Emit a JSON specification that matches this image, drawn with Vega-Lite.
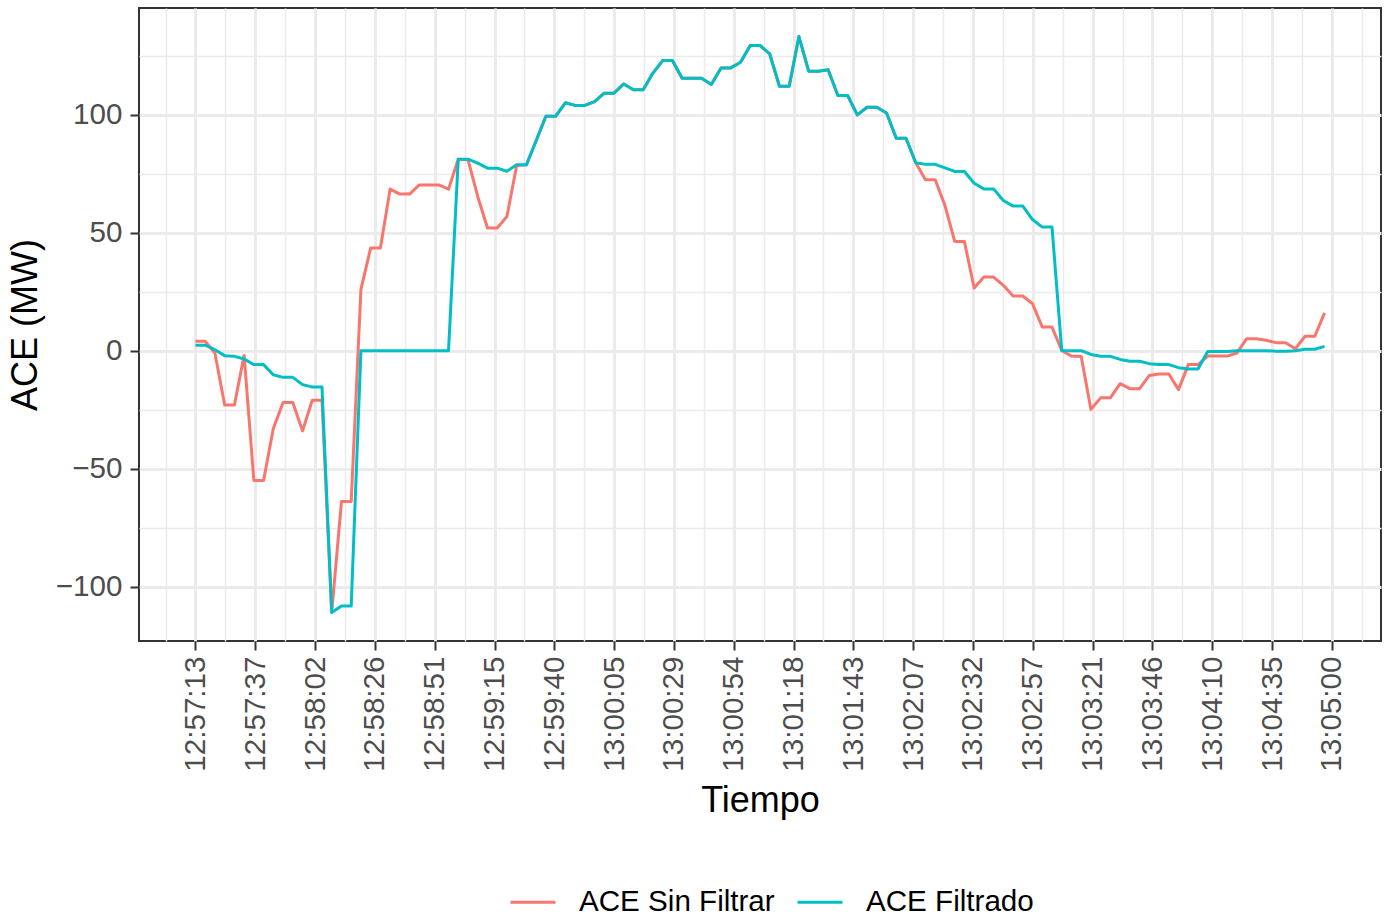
{
  "$schema": "https://vega.github.io/schema/vega-lite/v6.json",
  "width": 1242,
  "height": 633,
  "autosize": {"type": "none"},
  "padding": {"left": 139, "top": 8, "right": 4, "bottom": 277},
  "background": "white",
  "data": {
    "format": {"parse": {"tiempo": "date:'%H:%M:%S'"}},
    "values": [
      {"tiempo": "12:57:13", "ACE Sin Filtrar": 4, "ACE Filtrado": 2.3},
      {"tiempo": "12:57:17", "ACE Sin Filtrar": 4, "ACE Filtrado": 2.3},
      {"tiempo": "12:57:21", "ACE Sin Filtrar": -1, "ACE Filtrado": 0.4},
      {"tiempo": "12:57:25", "ACE Sin Filtrar": -23, "ACE Filtrado": -2.1},
      {"tiempo": "12:57:29", "ACE Sin Filtrar": -23, "ACE Filtrado": -2.4},
      {"tiempo": "12:57:33", "ACE Sin Filtrar": -2, "ACE Filtrado": -3.5},
      {"tiempo": "12:57:37", "ACE Sin Filtrar": -55, "ACE Filtrado": -5.9},
      {"tiempo": "12:57:41", "ACE Sin Filtrar": -55, "ACE Filtrado": -5.9},
      {"tiempo": "12:57:45", "ACE Sin Filtrar": -33, "ACE Filtrado": -10.2},
      {"tiempo": "12:57:49", "ACE Sin Filtrar": -22, "ACE Filtrado": -11.3},
      {"tiempo": "12:57:53", "ACE Sin Filtrar": -22, "ACE Filtrado": -11.3},
      {"tiempo": "12:57:57", "ACE Sin Filtrar": -34, "ACE Filtrado": -14.4},
      {"tiempo": "12:58:01", "ACE Sin Filtrar": -21, "ACE Filtrado": -15.4},
      {"tiempo": "12:58:05", "ACE Sin Filtrar": -21, "ACE Filtrado": -15.4},
      {"tiempo": "12:58:09", "ACE Sin Filtrar": -111, "ACE Filtrado": -111},
      {"tiempo": "12:58:13", "ACE Sin Filtrar": -64, "ACE Filtrado": -108.3},
      {"tiempo": "12:58:17", "ACE Sin Filtrar": -64, "ACE Filtrado": -108.3},
      {"tiempo": "12:58:21", "ACE Sin Filtrar": 26, "ACE Filtrado": 0},
      {"tiempo": "12:58:25", "ACE Sin Filtrar": 43.5, "ACE Filtrado": 0},
      {"tiempo": "12:58:29", "ACE Sin Filtrar": 43.5, "ACE Filtrado": 0},
      {"tiempo": "12:58:33", "ACE Sin Filtrar": 68.5, "ACE Filtrado": 0},
      {"tiempo": "12:58:37", "ACE Sin Filtrar": 66.4, "ACE Filtrado": 0},
      {"tiempo": "12:58:41", "ACE Sin Filtrar": 66.4, "ACE Filtrado": 0},
      {"tiempo": "12:58:45", "ACE Sin Filtrar": 70.3, "ACE Filtrado": 0},
      {"tiempo": "12:58:49", "ACE Sin Filtrar": 70.3, "ACE Filtrado": 0},
      {"tiempo": "12:58:53", "ACE Sin Filtrar": 70.3, "ACE Filtrado": 0},
      {"tiempo": "12:58:57", "ACE Sin Filtrar": 68.5, "ACE Filtrado": 0},
      {"tiempo": "12:59:01", "ACE Sin Filtrar": 81.2, "ACE Filtrado": 81.2},
      {"tiempo": "12:59:05", "ACE Sin Filtrar": 81, "ACE Filtrado": 81.2},
      {"tiempo": "12:59:09", "ACE Sin Filtrar": 65.4, "ACE Filtrado": 79.5},
      {"tiempo": "12:59:13", "ACE Sin Filtrar": 52, "ACE Filtrado": 77.4},
      {"tiempo": "12:59:17", "ACE Sin Filtrar": 52, "ACE Filtrado": 77.4},
      {"tiempo": "12:59:21", "ACE Sin Filtrar": 56.9, "ACE Filtrado": 76.1},
      {"tiempo": "12:59:25", "ACE Sin Filtrar": 78.5, "ACE Filtrado": 78.8},
      {"tiempo": "12:59:29", "ACE Sin Filtrar": 78.8, "ACE Filtrado": 78.8},
      {"tiempo": "12:59:33", "ACE Sin Filtrar": 89, "ACE Filtrado": 89},
      {"tiempo": "12:59:37", "ACE Sin Filtrar": 99.4, "ACE Filtrado": 99.4},
      {"tiempo": "12:59:41", "ACE Sin Filtrar": 99.4, "ACE Filtrado": 99.4},
      {"tiempo": "12:59:45", "ACE Sin Filtrar": 105.1, "ACE Filtrado": 105.1},
      {"tiempo": "12:59:49", "ACE Sin Filtrar": 104, "ACE Filtrado": 104},
      {"tiempo": "12:59:53", "ACE Sin Filtrar": 104, "ACE Filtrado": 104},
      {"tiempo": "12:59:57", "ACE Sin Filtrar": 105.6, "ACE Filtrado": 105.6},
      {"tiempo": "13:00:01", "ACE Sin Filtrar": 109.2, "ACE Filtrado": 109.2},
      {"tiempo": "13:00:05", "ACE Sin Filtrar": 109.2, "ACE Filtrado": 109.2},
      {"tiempo": "13:00:09", "ACE Sin Filtrar": 113.1, "ACE Filtrado": 113.1},
      {"tiempo": "13:00:13", "ACE Sin Filtrar": 110.6, "ACE Filtrado": 110.6},
      {"tiempo": "13:00:17", "ACE Sin Filtrar": 110.6, "ACE Filtrado": 110.6},
      {"tiempo": "13:00:21", "ACE Sin Filtrar": 117.7, "ACE Filtrado": 117.7},
      {"tiempo": "13:00:25", "ACE Sin Filtrar": 123, "ACE Filtrado": 123},
      {"tiempo": "13:00:29", "ACE Sin Filtrar": 123, "ACE Filtrado": 123},
      {"tiempo": "13:00:33", "ACE Sin Filtrar": 115.5, "ACE Filtrado": 115.5},
      {"tiempo": "13:00:37", "ACE Sin Filtrar": 115.5, "ACE Filtrado": 115.5},
      {"tiempo": "13:00:41", "ACE Sin Filtrar": 115.5, "ACE Filtrado": 115.5},
      {"tiempo": "13:00:45", "ACE Sin Filtrar": 112.9, "ACE Filtrado": 112.9},
      {"tiempo": "13:00:49", "ACE Sin Filtrar": 119.9, "ACE Filtrado": 119.9},
      {"tiempo": "13:00:53", "ACE Sin Filtrar": 119.9, "ACE Filtrado": 119.9},
      {"tiempo": "13:00:57", "ACE Sin Filtrar": 122.3, "ACE Filtrado": 122.3},
      {"tiempo": "13:01:01", "ACE Sin Filtrar": 129.4, "ACE Filtrado": 129.4},
      {"tiempo": "13:01:05", "ACE Sin Filtrar": 129.4, "ACE Filtrado": 129.4},
      {"tiempo": "13:01:09", "ACE Sin Filtrar": 125.8, "ACE Filtrado": 125.8},
      {"tiempo": "13:01:13", "ACE Sin Filtrar": 112.1, "ACE Filtrado": 112.1},
      {"tiempo": "13:01:17", "ACE Sin Filtrar": 112.1, "ACE Filtrado": 112.1},
      {"tiempo": "13:01:21", "ACE Sin Filtrar": 133.2, "ACE Filtrado": 133.2},
      {"tiempo": "13:01:25", "ACE Sin Filtrar": 118.5, "ACE Filtrado": 118.5},
      {"tiempo": "13:01:29", "ACE Sin Filtrar": 118.5, "ACE Filtrado": 118.5},
      {"tiempo": "13:01:33", "ACE Sin Filtrar": 119.1, "ACE Filtrado": 119.1},
      {"tiempo": "13:01:37", "ACE Sin Filtrar": 108.2, "ACE Filtrado": 108.2},
      {"tiempo": "13:01:41", "ACE Sin Filtrar": 108.2, "ACE Filtrado": 108.2},
      {"tiempo": "13:01:45", "ACE Sin Filtrar": 100, "ACE Filtrado": 100},
      {"tiempo": "13:01:49", "ACE Sin Filtrar": 103.2, "ACE Filtrado": 103.2},
      {"tiempo": "13:01:53", "ACE Sin Filtrar": 103.2, "ACE Filtrado": 103.2},
      {"tiempo": "13:01:57", "ACE Sin Filtrar": 100.8, "ACE Filtrado": 100.8},
      {"tiempo": "13:02:01", "ACE Sin Filtrar": 90.1, "ACE Filtrado": 90.1},
      {"tiempo": "13:02:05", "ACE Sin Filtrar": 90.1, "ACE Filtrado": 90.1},
      {"tiempo": "13:02:09", "ACE Sin Filtrar": 79.7, "ACE Filtrado": 79.7},
      {"tiempo": "13:02:13", "ACE Sin Filtrar": 72.5, "ACE Filtrado": 79},
      {"tiempo": "13:02:17", "ACE Sin Filtrar": 72.5, "ACE Filtrado": 79},
      {"tiempo": "13:02:21", "ACE Sin Filtrar": 61.6, "ACE Filtrado": 77.5},
      {"tiempo": "13:02:25", "ACE Sin Filtrar": 46.3, "ACE Filtrado": 76},
      {"tiempo": "13:02:29", "ACE Sin Filtrar": 46.3, "ACE Filtrado": 76},
      {"tiempo": "13:02:33", "ACE Sin Filtrar": 26.6, "ACE Filtrado": 71},
      {"tiempo": "13:02:37", "ACE Sin Filtrar": 31.2, "ACE Filtrado": 68.6},
      {"tiempo": "13:02:41", "ACE Sin Filtrar": 31.2, "ACE Filtrado": 68.6},
      {"tiempo": "13:02:45", "ACE Sin Filtrar": 27.7, "ACE Filtrado": 63.7},
      {"tiempo": "13:02:49", "ACE Sin Filtrar": 23.2, "ACE Filtrado": 61.3},
      {"tiempo": "13:02:53", "ACE Sin Filtrar": 23.2, "ACE Filtrado": 61.3},
      {"tiempo": "13:02:57", "ACE Sin Filtrar": 19.9, "ACE Filtrado": 55.6},
      {"tiempo": "13:03:01", "ACE Sin Filtrar": 10, "ACE Filtrado": 52.4},
      {"tiempo": "13:03:05", "ACE Sin Filtrar": 10, "ACE Filtrado": 52.4},
      {"tiempo": "13:03:09", "ACE Sin Filtrar": 0.1, "ACE Filtrado": 0.1},
      {"tiempo": "13:03:13", "ACE Sin Filtrar": -2.3, "ACE Filtrado": 0},
      {"tiempo": "13:03:17", "ACE Sin Filtrar": -2.5, "ACE Filtrado": 0},
      {"tiempo": "13:03:21", "ACE Sin Filtrar": -24.9, "ACE Filtrado": -1.6},
      {"tiempo": "13:03:25", "ACE Sin Filtrar": -20, "ACE Filtrado": -2.4},
      {"tiempo": "13:03:29", "ACE Sin Filtrar": -20, "ACE Filtrado": -2.4},
      {"tiempo": "13:03:33", "ACE Sin Filtrar": -14, "ACE Filtrado": -3.7},
      {"tiempo": "13:03:37", "ACE Sin Filtrar": -16.1, "ACE Filtrado": -4.5},
      {"tiempo": "13:03:41", "ACE Sin Filtrar": -16.1, "ACE Filtrado": -4.5},
      {"tiempo": "13:03:45", "ACE Sin Filtrar": -10.5, "ACE Filtrado": -5.5},
      {"tiempo": "13:03:49", "ACE Sin Filtrar": -9.9, "ACE Filtrado": -5.9},
      {"tiempo": "13:03:53", "ACE Sin Filtrar": -9.9, "ACE Filtrado": -5.9},
      {"tiempo": "13:03:57", "ACE Sin Filtrar": -16.5, "ACE Filtrado": -7.2},
      {"tiempo": "13:04:01", "ACE Sin Filtrar": -5.9, "ACE Filtrado": -7.8},
      {"tiempo": "13:04:05", "ACE Sin Filtrar": -5.9, "ACE Filtrado": -7.8},
      {"tiempo": "13:04:09", "ACE Sin Filtrar": -2.3, "ACE Filtrado": -0.3},
      {"tiempo": "13:04:13", "ACE Sin Filtrar": -2.3, "ACE Filtrado": -0.3},
      {"tiempo": "13:04:17", "ACE Sin Filtrar": -2.3, "ACE Filtrado": -0.3},
      {"tiempo": "13:04:21", "ACE Sin Filtrar": -1, "ACE Filtrado": 0},
      {"tiempo": "13:04:25", "ACE Sin Filtrar": 5.1, "ACE Filtrado": 0},
      {"tiempo": "13:04:29", "ACE Sin Filtrar": 5.1, "ACE Filtrado": 0},
      {"tiempo": "13:04:33", "ACE Sin Filtrar": 4.4, "ACE Filtrado": 0},
      {"tiempo": "13:04:37", "ACE Sin Filtrar": 3.4, "ACE Filtrado": -0.2},
      {"tiempo": "13:04:41", "ACE Sin Filtrar": 3.4, "ACE Filtrado": -0.2},
      {"tiempo": "13:04:45", "ACE Sin Filtrar": 0.8, "ACE Filtrado": 0},
      {"tiempo": "13:04:49", "ACE Sin Filtrar": 6.1, "ACE Filtrado": 0.6},
      {"tiempo": "13:04:53", "ACE Sin Filtrar": 6.1, "ACE Filtrado": 0.6},
      {"tiempo": "13:04:57", "ACE Sin Filtrar": 16, "ACE Filtrado": 1.8}
    ]
  },
  "transform": [
    {"fold": ["ACE Sin Filtrar", "ACE Filtrado"], "as": ["serie", "ace"]}
  ],
  "resolve": {"axis": {"x": "independent", "y": "independent"}},
  "layer": [
    {
      "mark": {"type": "point", "opacity": 0, "size": 1},
      "encoding": {
        "x": {
          "field": "tiempo", "type": "temporal",
          "scale": {"domain": [
            {"year": 1900, "month": 1, "date": 1, "hours": 12, "minutes": 56, "seconds": 49, "milliseconds": 800},
            {"year": 1900, "month": 1, "date": 1, "hours": 13, "minutes": 5, "seconds": 20, "milliseconds": 200}
          ], "nice": false},
          "axis": {
            "orient": "bottom", "title": null, "labels": false, "ticks": false, "domain": false,
            "grid": true, "gridColor": "#EBEBEB", "gridWidth": 1.5,
            "values": [
              {"year": 1900, "month": 1, "date": 1, "hours": 12, "minutes": 57, "seconds": 0, "milliseconds": 711},
              {"year": 1900, "month": 1, "date": 1, "hours": 12, "minutes": 57, "seconds": 25, "milliseconds": 289},
              {"year": 1900, "month": 1, "date": 1, "hours": 12, "minutes": 57, "seconds": 49, "milliseconds": 868},
              {"year": 1900, "month": 1, "date": 1, "hours": 12, "minutes": 58, "seconds": 14, "milliseconds": 447},
              {"year": 1900, "month": 1, "date": 1, "hours": 12, "minutes": 58, "seconds": 39, "milliseconds": 26},
              {"year": 1900, "month": 1, "date": 1, "hours": 12, "minutes": 59, "seconds": 3, "milliseconds": 605},
              {"year": 1900, "month": 1, "date": 1, "hours": 12, "minutes": 59, "seconds": 28, "milliseconds": 184},
              {"year": 1900, "month": 1, "date": 1, "hours": 12, "minutes": 59, "seconds": 52, "milliseconds": 763},
              {"year": 1900, "month": 1, "date": 1, "hours": 13, "minutes": 0, "seconds": 17, "milliseconds": 342},
              {"year": 1900, "month": 1, "date": 1, "hours": 13, "minutes": 0, "seconds": 41, "milliseconds": 921},
              {"year": 1900, "month": 1, "date": 1, "hours": 13, "minutes": 1, "seconds": 6, "milliseconds": 500},
              {"year": 1900, "month": 1, "date": 1, "hours": 13, "minutes": 1, "seconds": 31, "milliseconds": 79},
              {"year": 1900, "month": 1, "date": 1, "hours": 13, "minutes": 1, "seconds": 55, "milliseconds": 658},
              {"year": 1900, "month": 1, "date": 1, "hours": 13, "minutes": 2, "seconds": 20, "milliseconds": 237},
              {"year": 1900, "month": 1, "date": 1, "hours": 13, "minutes": 2, "seconds": 44, "milliseconds": 816},
              {"year": 1900, "month": 1, "date": 1, "hours": 13, "minutes": 3, "seconds": 9, "milliseconds": 395},
              {"year": 1900, "month": 1, "date": 1, "hours": 13, "minutes": 3, "seconds": 33, "milliseconds": 974},
              {"year": 1900, "month": 1, "date": 1, "hours": 13, "minutes": 3, "seconds": 58, "milliseconds": 553},
              {"year": 1900, "month": 1, "date": 1, "hours": 13, "minutes": 4, "seconds": 23, "milliseconds": 132},
              {"year": 1900, "month": 1, "date": 1, "hours": 13, "minutes": 4, "seconds": 47, "milliseconds": 711},
              {"year": 1900, "month": 1, "date": 1, "hours": 13, "minutes": 5, "seconds": 12, "milliseconds": 289}
            ]
          }
        },
        "y": {
          "field": "ace", "type": "quantitative",
          "scale": {"domain": [-123.1, 145.3], "nice": false, "zero": false},
          "axis": {
            "orient": "left", "title": null, "labels": false, "ticks": false, "domain": false,
            "grid": true, "gridColor": "#EBEBEB", "gridWidth": 1.5,
            "values": [-75, -25, 25, 75, 125]
          }
        }
      }
    },
    {
      "mark": {"type": "line", "strokeWidth": 3, "strokeJoin": "round"},
      "encoding": {
        "x": {
          "field": "tiempo", "type": "temporal",
          "scale": {"domain": [
            {"year": 1900, "month": 1, "date": 1, "hours": 12, "minutes": 56, "seconds": 49, "milliseconds": 800},
            {"year": 1900, "month": 1, "date": 1, "hours": 13, "minutes": 5, "seconds": 20, "milliseconds": 200}
          ], "nice": false},
          "axis": {
            "orient": "bottom", "title": "Tiempo", "format": "%H:%M:%S",
            "labelAngle": 270, "labelPadding": 6, "titlePadding": 12,
            "labelOverlap": false, "labelFlush": false,
            "grid": true, "gridColor": "#EBEBEB", "gridWidth": 3,
            "values": [
              {"year": 1900, "month": 1, "date": 1, "hours": 12, "minutes": 57, "seconds": 13, "milliseconds": 0},
              {"year": 1900, "month": 1, "date": 1, "hours": 12, "minutes": 57, "seconds": 37, "milliseconds": 579},
              {"year": 1900, "month": 1, "date": 1, "hours": 12, "minutes": 58, "seconds": 2, "milliseconds": 158},
              {"year": 1900, "month": 1, "date": 1, "hours": 12, "minutes": 58, "seconds": 26, "milliseconds": 737},
              {"year": 1900, "month": 1, "date": 1, "hours": 12, "minutes": 58, "seconds": 51, "milliseconds": 316},
              {"year": 1900, "month": 1, "date": 1, "hours": 12, "minutes": 59, "seconds": 15, "milliseconds": 895},
              {"year": 1900, "month": 1, "date": 1, "hours": 12, "minutes": 59, "seconds": 40, "milliseconds": 474},
              {"year": 1900, "month": 1, "date": 1, "hours": 13, "minutes": 0, "seconds": 5, "milliseconds": 53},
              {"year": 1900, "month": 1, "date": 1, "hours": 13, "minutes": 0, "seconds": 29, "milliseconds": 632},
              {"year": 1900, "month": 1, "date": 1, "hours": 13, "minutes": 0, "seconds": 54, "milliseconds": 211},
              {"year": 1900, "month": 1, "date": 1, "hours": 13, "minutes": 1, "seconds": 18, "milliseconds": 789},
              {"year": 1900, "month": 1, "date": 1, "hours": 13, "minutes": 1, "seconds": 43, "milliseconds": 368},
              {"year": 1900, "month": 1, "date": 1, "hours": 13, "minutes": 2, "seconds": 7, "milliseconds": 947},
              {"year": 1900, "month": 1, "date": 1, "hours": 13, "minutes": 2, "seconds": 32, "milliseconds": 526},
              {"year": 1900, "month": 1, "date": 1, "hours": 13, "minutes": 2, "seconds": 57, "milliseconds": 105},
              {"year": 1900, "month": 1, "date": 1, "hours": 13, "minutes": 3, "seconds": 21, "milliseconds": 684},
              {"year": 1900, "month": 1, "date": 1, "hours": 13, "minutes": 3, "seconds": 46, "milliseconds": 263},
              {"year": 1900, "month": 1, "date": 1, "hours": 13, "minutes": 4, "seconds": 10, "milliseconds": 842},
              {"year": 1900, "month": 1, "date": 1, "hours": 13, "minutes": 4, "seconds": 35, "milliseconds": 421},
              {"year": 1900, "month": 1, "date": 1, "hours": 13, "minutes": 5, "seconds": 0, "milliseconds": 0}
            ]
          }
        },
        "y": {
          "field": "ace", "type": "quantitative",
          "scale": {"domain": [-123.1, 145.3], "nice": false, "zero": false},
          "axis": {
            "orient": "left", "title": "ACE (MW)", "values": [-100, -50, 0, 50, 100],
            "labelPadding": 8, "titlePadding": 11,
            "grid": true, "gridColor": "#EBEBEB", "gridWidth": 3
          }
        },
        "color": {
          "field": "serie", "type": "nominal",
          "scale": {"domain": ["ACE Sin Filtrar", "ACE Filtrado"], "range": ["#F8766D", "#00BFC4"]},
          "legend": {
            "title": null, "orient": "none", "direction": "horizontal",
            "legendX": 370, "legendY": 870,
            "symbolType": "stroke", "symbolStrokeWidth": 3, "symbolSize": 2025,
            "labelOffset": 22, "columnPadding": 16, "labelLimit": 500,
            "labelFontSize": 29.6, "labelColor": "#000000", "labelFont": "Liberation Sans"
          }
        }
      }
    }
  ],
  "config": {
    "font": "Liberation Sans",
    "view": {"stroke": "#333333", "strokeWidth": 2},
    "axis": {
      "labelFont": "Liberation Sans", "titleFont": "Liberation Sans",
      "labelFontSize": 29.6, "labelColor": "#4D4D4D",
      "titleFontSize": 36, "titleColor": "#000000", "titleFontWeight": "normal",
      "tickColor": "#333333", "tickWidth": 2, "tickSize": 9, "domain": false
    }
  }
}
